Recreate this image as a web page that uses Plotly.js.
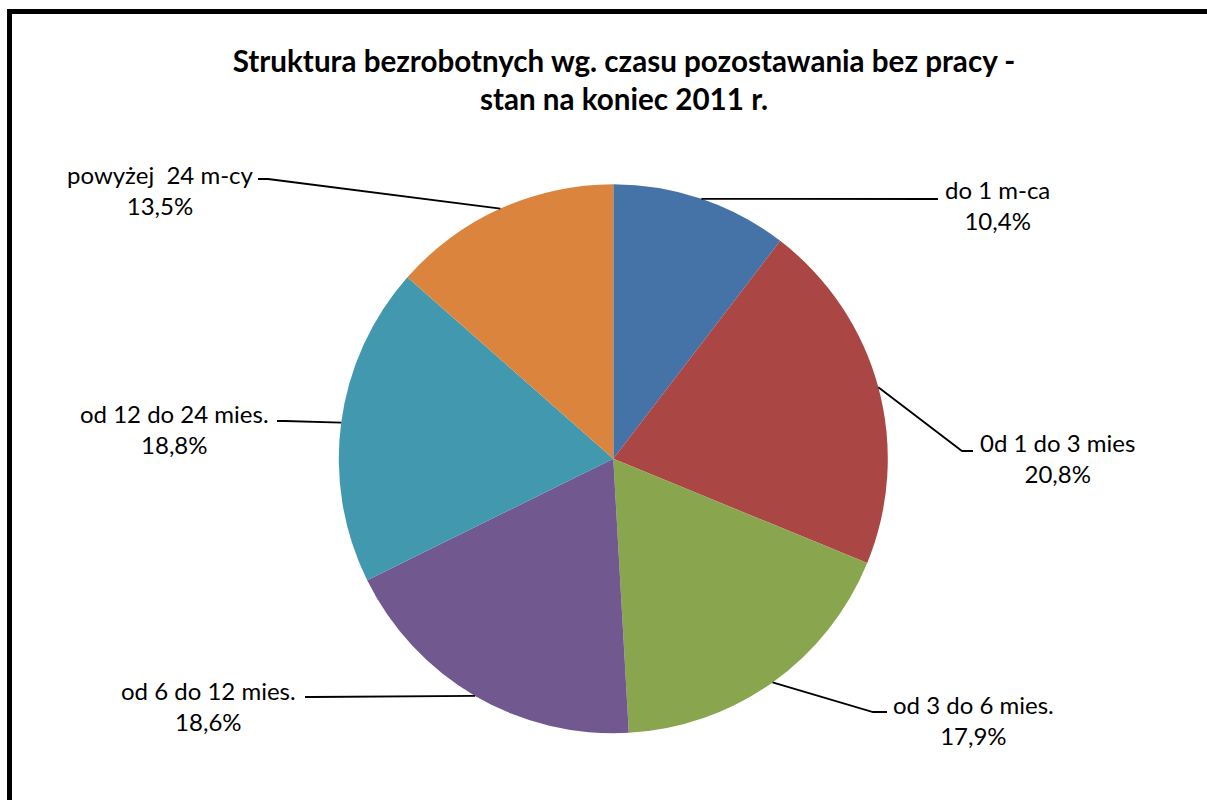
<!DOCTYPE html>
<html>
<head>
<meta charset="utf-8">
<script src="https://cdn.plot.ly/plotly-3.0.1.min.js"></script>
<style>html,body{margin:0;padding:0;background:#fff;overflow:hidden}#chart{width:1207px;height:800px}</style>
</head>
<body>
<div id="chart"></div>
<script>
// ---- data ----
const categories = ['do 1 m-ca', '0d 1 do 3 mies', 'od 3 do 6 mies.', 'od 6 do 12 mies.', 'od 12 do 24 mies.', 'powyżej\u00a0 24 m-cy'];
const shares = [10.4, 20.8, 17.9, 18.6, 18.8, 13.5];
const sliceColors = ['#4572A7', '#AA4643', '#89A54E', '#71588F', '#4198AF', '#DB843D'];
const titleText = '<b>Struktura bezrobotnych wg. czasu pozostawania bez pracy -<br>stan na koniec 2011 r.</b>';

// ---- layout constants (pixels) ----
const W = 1207, H = 800;
const CX = 613.3, CY = 458.8, R = 274.5;
// label placement: [elbowX, elbowY, endX, endY, textX, textY]
const labelPos = [
  [930, 199, 938, 199, 997, 205],
  [962, 451, 973, 451, 1057, 458],
  [873, 712, 887, 712, 973, 720],
  [312, 697, 305, 697, 209, 706],
  [285, 421, 277, 421, 174, 429],
  [268, 179, 258, 179, 160, 190]
];
const FONT = 'Lato, "Open Sans", sans-serif';

const px = x => x / W;
const py = y => 1 - y / H;

const total = shares.reduce((a, b) => a + b, 0);
const shapes = [];
const annotations = [];
let cum = 0;
shares.forEach((v, i) => {
  const mid = (cum + v / 2) / total * 2 * Math.PI;
  cum += v;
  const ex = CX + R * Math.sin(mid), ey = CY - R * Math.cos(mid);
  const p = labelPos[i];
  shapes.push({
    type: 'path', xref: 'paper', yref: 'paper',
    path: `M ${px(ex)} ${py(ey)} L ${px(p[0])} ${py(p[1])} L ${px(p[2])} ${py(p[3])}`,
    line: {color: '#000', width: 1.8}
  });
  annotations.push({
    xref: 'paper', yref: 'paper', x: px(p[4]), y: py(p[5]),
    xanchor: 'center', yanchor: 'middle', showarrow: false, align: 'center',
    text: categories[i] + '<br>' + v.toFixed(1).replace('.', ',') + '%',
    font: {family: FONT, size: 24, color: '#000'}
  });
});

// outer chart border
shapes.push({
  type: 'rect', xref: 'paper', yref: 'paper',
  x0: px(9.5), x1: 1.05, y0: -0.05, y1: py(11.5),
  line: {color: '#000', width: 5}, fillcolor: 'rgba(0,0,0,0)'
});

const trace = {
  type: 'pie',
  labels: categories,
  values: shares,
  sort: false,
  direction: 'clockwise',
  rotation: 0,
  textinfo: 'none',
  textposition: 'none',
  hoverinfo: 'none',
  marker: {colors: sliceColors, line: {width: 0}},
  domain: {x: [px(CX - R), px(CX + R)], y: [py(CY + R), py(CY - R)]}
};

const layout = {
  width: W, height: H,
  margin: {l: 0, r: 0, t: 0, b: 0},
  paper_bgcolor: '#fff',
  showlegend: false,
  title: {
    text: titleText, x: px(624), xanchor: 'center', y: py(72), yanchor: 'middle',
    font: {family: FONT, size: 29.6, color: '#000'}
  },
  shapes: shapes,
  annotations: annotations
};

Plotly.newPlot('chart', [trace], layout, {displayModeBar: false, staticPlot: true});
</script>
</body>
</html>
